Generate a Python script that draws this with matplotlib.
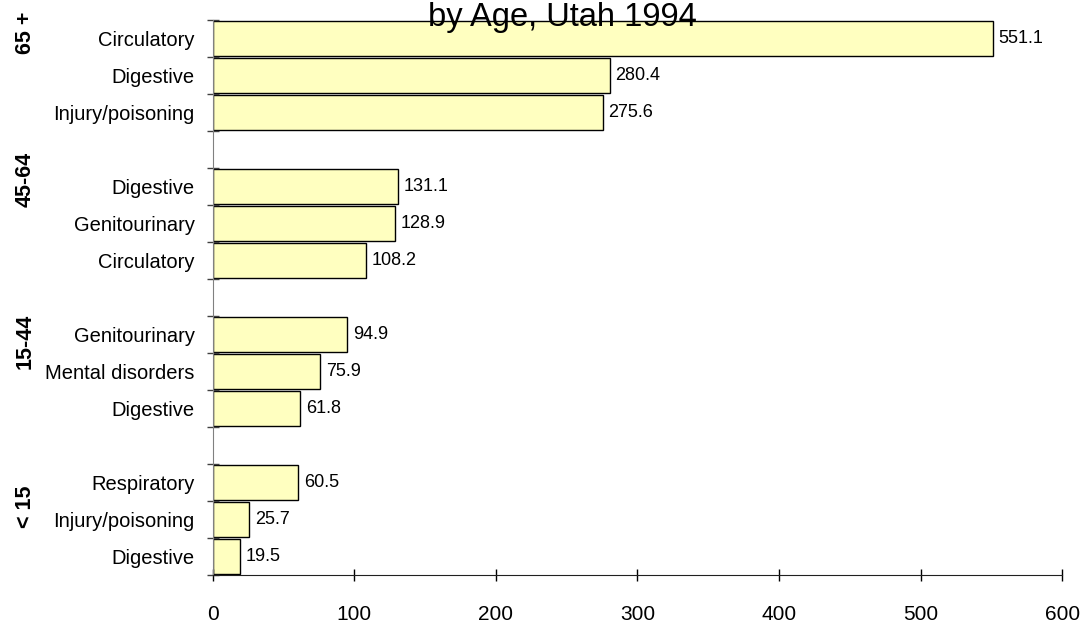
import numpy as np
import matplotlib
matplotlib.use("Agg")
import matplotlib.pyplot as plt
from matplotlib.ticker import FixedLocator

plt.rcParams['font.family'] = ['Liberation Sans', 'DejaVu Sans']

# data, top to bottom
groups = ["65 +", "45-64", "15-44", "< 15"]
causes = [
    ["Circulatory", "Digestive", "Injury/poisoning"],
    ["Digestive", "Genitourinary", "Circulatory"],
    ["Genitourinary", "Mental disorders", "Digestive"],
    ["Respiratory", "Injury/poisoning", "Digestive"],
]
rates = [
    [551.1, 280.4, 275.6],
    [131.1, 128.9, 108.2],
    [94.9, 75.9, 61.8],
    [60.5, 25.7, 19.5],
]
x_ticks = [0, 100, 200, 300, 400, 500, 600]

# group label centres (slot units)
group_label_pos = [-0.15, 3.8, 8.18, 12.66]

fig = plt.figure(figsize=(10.86, 6.24), dpi=100)
ax = fig.add_axes([0.196, 0.0785, 0.782, 0.8895])

# each group takes 3 slots plus one blank slot between groups
ypos, labels, vals = [], [], []
for g, (names, vs) in enumerate(zip(causes, rates)):
    for k, (n, v) in enumerate(zip(names, vs)):
        ypos.append(g * 4 + k)
        labels.append(n)
        vals.append(v)
n_slots = len(groups) * 4 - 1

bars = ax.barh(ypos, vals, height=0.94, color="#FFFFC0", edgecolor="black", linewidth=1.0)
for b, v in zip(bars, vals):
    ax.annotate(f"{v:.1f}", (b.get_width(), b.get_y() + b.get_height() / 2),
                xytext=(4, 0), textcoords="offset points", va="center", ha="left",
                fontsize=13)

ax.set_ylim(n_slots - 0.5, -0.5)
ax.set_xlim(0, 600)

ax.set_yticks(ypos)
ax.set_yticklabels(labels, fontsize=14.5)
ax.tick_params(axis="y", which="major", length=0, pad=13)
ax.yaxis.set_minor_locator(FixedLocator(np.arange(n_slots + 1) - 0.5))
ax.tick_params(axis="y", which="minor", direction="inout", length=9, width=1, color="#404040")

ax.set_xticks(x_ticks)
ax.tick_params(axis="x", direction="inout", length=9, width=1, pad=17, labelsize=15)

for side in ["top", "right"]:
    ax.spines[side].set_visible(False)
ax.spines["left"].set_color("#808080")
ax.spines["bottom"].set_color("#202020")

for g, y in zip(groups, group_label_pos):
    ax.text(-0.221, y, g, transform=ax.get_yaxis_transform(), rotation=90,
            ha="center", va="center", fontsize=15.5, fontweight="bold")

fig.text(0.518, 1 - 26 / 624, "by Age, Utah 1994", ha="center", va="baseline", fontsize=23.5)

fig.savefig("out.png", dpi=100)
